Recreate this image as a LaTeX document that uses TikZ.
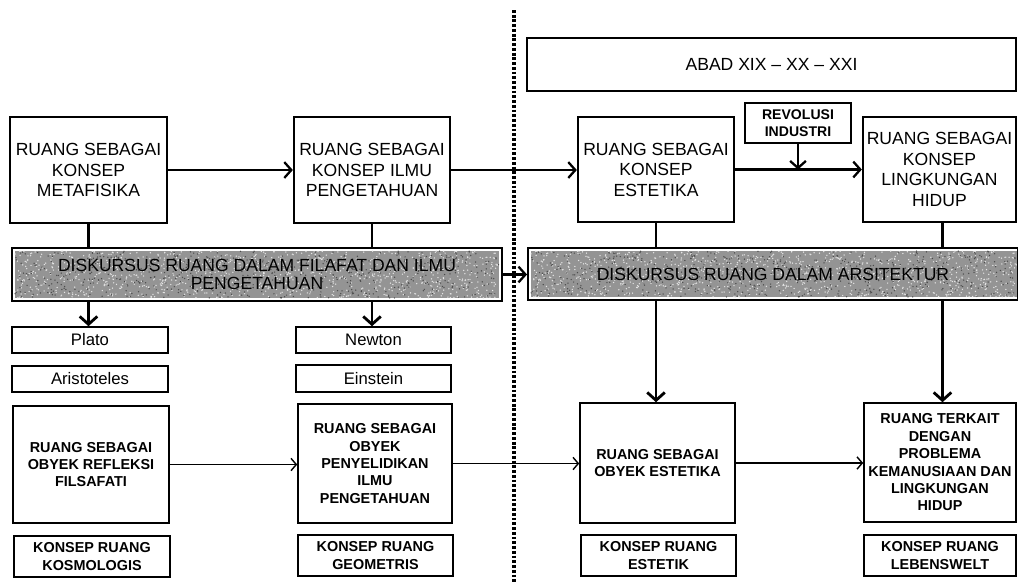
\documentclass[tikz,border=0pt]{standalone}
\usepackage{fontspec}
\setmainfont{Liberation Sans}
\usetikzlibrary{arrows.meta,calc}
\newcommand\barnoise[4]{%
  \fill[black!42] (#1,#2) rectangle ++(#3,#4);
  \pgfmathsetseed{11}
  \foreach \i in {1,...,1100}{%
    \pgfmathsetmacro\rx{#1+#3*rnd}\pgfmathsetmacro\ry{#2+#4*rnd}%
    \fill[white!90!black] (\rx,\ry) circle[radius=0.42pt];}
  \foreach \i in {1,...,600}{%
    \pgfmathsetmacro\rx{#1+#3*rnd}\pgfmathsetmacro\ry{#2+#4*rnd}%
    \fill[black!70] (\rx,\ry) circle[radius=0.42pt];}
}
% box from corner (x0,y0) to (x1,y1) in pixel units
\newcommand\bx[7]{\node[#1,minimum width={(#5-#3)*0.02cm},minimum height={(#6-#4)*0.02cm}] (#2) at ({(#3+#5)/2},{(#4+#6)/2}) {#7};}
\begin{document}
\begin{tikzpicture}[x=0.02cm,y=-0.02cm,
  tbox/.style={draw,line width=1.3pt,inner sep=0pt,align=center,font=\fontsize{10}{11.7}\selectfont},
  abox/.style={draw,line width=0.9pt,inner sep=0pt,align=center,font=\fontsize{10}{12}\selectfont},
  nbox/.style={draw,line width=0.9pt,inner sep=0pt,align=center,font=\fontsize{9.5}{11}\selectfont},
  obox/.style={draw,line width=0.9pt,inner sep=0pt,align=center,font=\bfseries\fontsize{8.2}{9.9}\selectfont},
  rbox/.style={draw,line width=0.8pt,inner sep=0pt,align=center,font=\bfseries\fontsize{8}{9.5}\selectfont},
  barbox/.style={draw,line width=1.1pt,inner sep=0pt,align=center,font=\fontsize{10}{10.4}\selectfont},
  link/.style={line width=1.3pt},
  bigarrow/.style={line width=1.3pt,-{Straight Barb[length=4pt,width=9pt]}},
  vdown/.style={line width=1.6pt,-{Straight Barb[length=4.5pt,width=10pt]}},
  thinarrow/.style={line width=0.8pt,-{Straight Barb[length=3pt,width=7pt]}},
  divider/.style={line width=2pt,dash pattern=on 1.6pt off 1.1pt}]
\useasboundingbox (0,0) rectangle (1018,583);

% divider
\coordinate (dtop) at (514,10);
\coordinate (dbot) at (514,583);
\draw[divider] (dtop) -- (dbot);

% top row
\bx{tbox}{b1}{10}{117}{167}{223}{RUANG SEBAGAI\\KONSEP\\METAFISIKA}
\bx{tbox}{b2}{294}{117}{450}{223}{RUANG SEBAGAI\\KONSEP ILMU\\PENGETAHUAN}
\bx{abox}{abad}{527}{38}{1016}{91}{ABAD XIX -- XX -- XXI}
\bx{tbox}{b3}{578}{117}{734}{222}{RUANG SEBAGAI\\KONSEP\\ESTETIKA}
\bx{rbox}{rev}{745}{103}{851}{143}{REVOLUSI\\INDUSTRI}
\bx{tbox}{b4}{863}{117}{1016}{222}{RUANG SEBAGAI\\KONSEP\\LINGKUNGAN\\HIDUP}

% bars
\fill[white] (12,248) rectangle (502,301);
\fill[white] (528,248) rectangle (1018,300);
\barnoise{15}{251}{484}{47}
\barnoise{531}{251}{487}{46}
\bx{barbox}{bar1}{12}{248}{502}{301}{DISKURSUS RUANG DALAM FILAFAT DAN ILMU\\PENGETAHUAN}
\bx{barbox}{bar2}{528}{248}{1018}{300}{DISKURSUS RUANG DALAM ARSITEKTUR}

% names
\bx{nbox}{plato}{12}{327}{168}{353}{Plato}
\bx{nbox}{arist}{12}{366}{168}{392}{Aristoteles}
\bx{nbox}{newton}{296}{327}{451}{353}{Newton}
\bx{nbox}{einst}{296}{365}{451}{392}{Einstein}

% object boxes
\bx{obox}{o1}{13}{406}{169}{523}{RUANG SEBAGAI\\OBYEK REFLEKSI\\FILSAFATI}
\bx{obox}{o2}{298}{404}{452}{523}{RUANG SEBAGAI\\OBYEK\\PENYELIDIKAN\\ILMU\\PENGETAHUAN}
\bx{obox}{o3}{580}{403}{735}{523}{RUANG SEBAGAI\\OBYEK ESTETIKA}
\bx{obox}{o4}{864}{403}{1016}{522}{RUANG TERKAIT\\DENGAN\\PROBLEMA\\KEMANUSIAAN DAN\\LINGKUNGAN\\HIDUP}

% concept boxes
\bx{obox}{k1}{14}{536}{170}{577}{KONSEP RUANG\\KOSMOLOGIS}
\bx{obox}{k2}{298}{535}{453}{576}{KONSEP RUANG\\GEOMETRIS}
\bx{obox}{k3}{581}{535}{736}{576}{KONSEP RUANG\\ESTETIK}
\bx{obox}{k4}{864}{535}{1016}{576}{KONSEP RUANG\\LEBENSWELT}

% connectors top row
\draw[bigarrow] (b1.east) -- (b1.east -| b2.west);
\draw[bigarrow] (b2.east) -- (b2.east -| b3.west);
\draw[bigarrow] (b3.east) -- (b3.east -| b4.west);
\coordinate (revjoin) at (rev.south |- b3.east);
\draw[bigarrow] (rev.south) -- (revjoin);

% boxes to bars
\draw[link] (b1.south) -- (b1.south |- bar1.north);
\draw[link] (b2.south) -- (b2.south |- bar1.north);
\draw[link] (b3.south) -- (b3.south |- bar2.north);
\coordinate (b4s) at ($(b4.south)+(3,0)$);
\draw[link] (b4s) -- (b4s |- bar2.north);

% bar to bar
\draw[bigarrow] (bar1.east) -- (bar1.east -| bar2.west);

% bars down
\draw[vdown] (b1.south |- bar1.south) -- (b1.south |- plato.north);
\draw[vdown] (b2.south |- bar1.south) -- (b2.south |- newton.north);
\draw[vdown] (b3.south |- bar2.south) -- (b3.south |- o3.north);
\draw[vdown] (b4s |- bar2.south) -- (b4s |- o4.north);

% bottom arrows
\draw[thinarrow] (o1.east) -- (o1.east -| o2.west);
\draw[thinarrow] (o2.east) -- (o2.east -| o3.west);
\draw[thinarrow] (o3.east) -- (o3.east -| o4.west);
\end{tikzpicture}
\end{document}
